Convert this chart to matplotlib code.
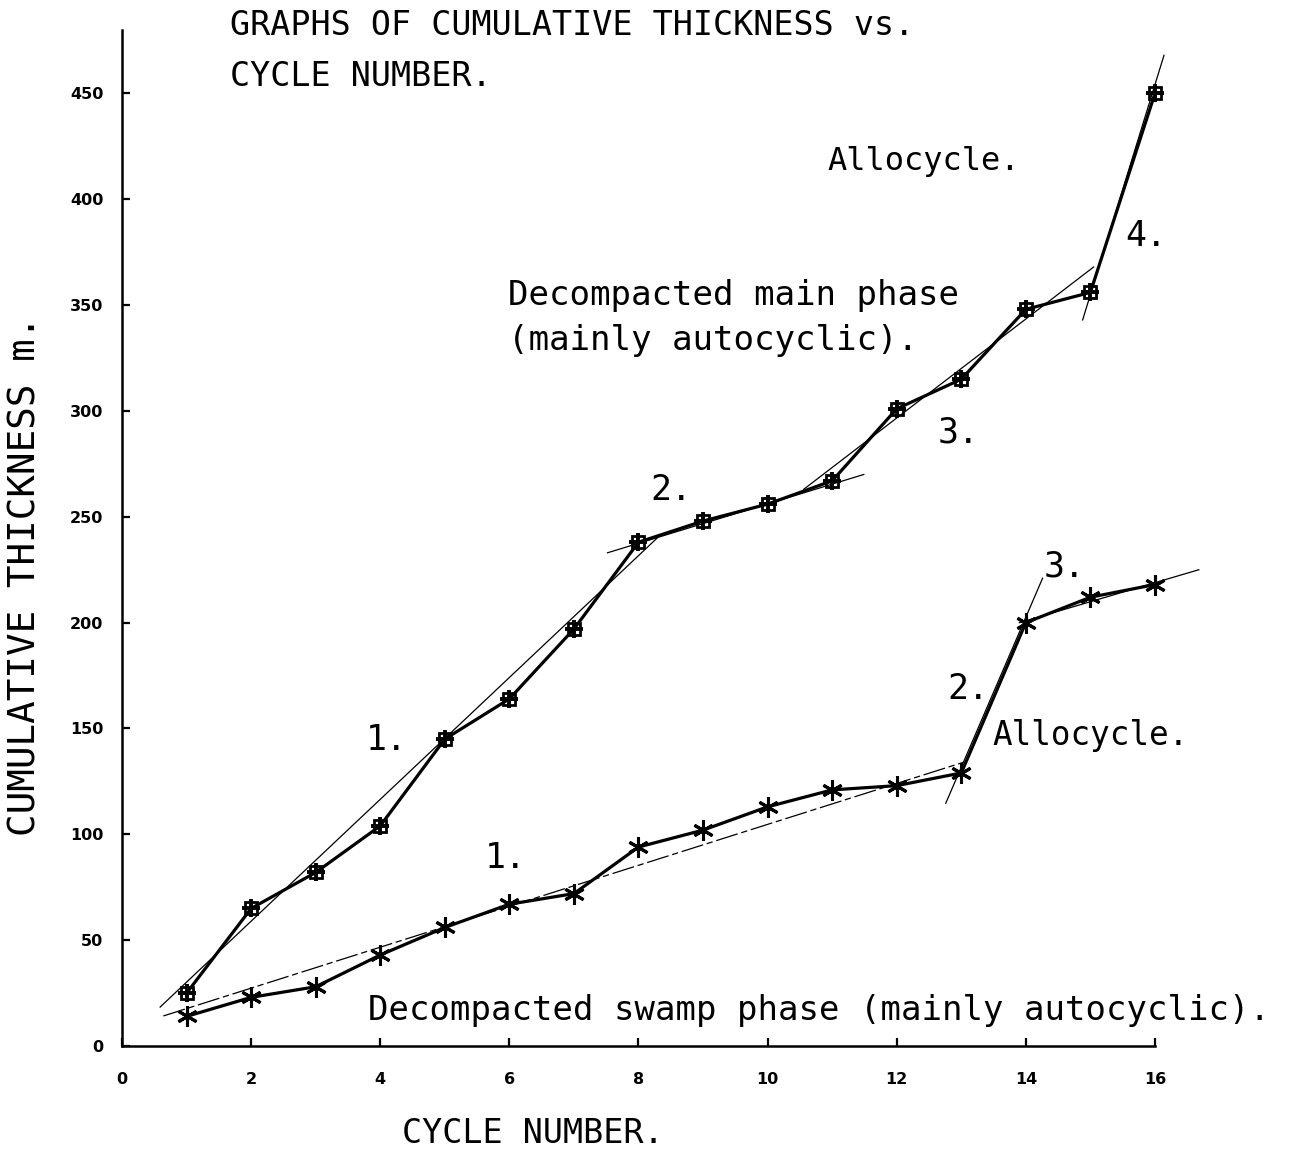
import matplotlib
matplotlib.use('Agg')
import matplotlib.pyplot as plt
import numpy as np


# cumulative thickness (m) per cycle, read from the two plotted series
cycles = np.arange(1, 17)
main_phase = [25, 65, 82, 104, 145, 164, 197, 238, 248, 256, 267, 301, 315, 348, 356, 450]
swamp_phase = [14, 23, 28, 43, 56, 67, 72, 94, 102, 113, 121, 123, 129, 200, 212, 218]

# fitted trend segments: ((x0, y0), (x1, y1))
main_trends = [((0.59, 18.4), (8.29, 240.0)),
               ((7.52, 233.0), (11.49, 270.0)),
               ((10.56, 263.0), (15.05, 368.0)),
               ((14.88, 343.0), (16.14, 468.0))]
swamp_trends = [((0.64, 14.2), (13.03, 134.0)),
                ((12.76, 114.7), (14.26, 221.0)),
                ((13.90, 200.0), (16.68, 225.0))]

x_ticks = list(range(0, 17, 2))
y_ticks = list(range(0, 451, 50))

MONO = 'DejaVu Sans Mono'


def setup_pyplot():
    plt.rcParams['font.family'] = 'DejaVu Sans'
    plt.rcParams['xtick.direction'] = 'in'
    plt.rcParams['ytick.direction'] = 'in'
    plt.rcParams['xtick.major.width'] = 1.6
    plt.rcParams['ytick.major.width'] = 1.6
    plt.rcParams['xtick.major.size'] = 6
    plt.rcParams['ytick.major.size'] = 6


def draw_trends(ax, segments, **kw):
    for (x0, y0), (x1, y1) in segments:
        ax.plot([x0, x1], [y0, y1], color='black', lw=0.9, clip_on=False, **kw)


if __name__ == '__main__':
    setup_pyplot()

    fig = plt.figure(figsize=(12.9, 11.51), dpi=100)
    ax = fig.add_axes([0.0946, 0.0912, 0.8007, 0.8828])
    ax.set_xlim(0, 16)
    ax.set_ylim(0, 480)

    for side in ('top', 'right'):
        ax.spines[side].set_visible(False)
    ax.spines['left'].set_linewidth(1.8)
    ax.spines['bottom'].set_linewidth(1.8)

    ax.set_xticks(x_ticks)
    ax.set_yticks(y_ticks)
    ax.tick_params(axis='x', pad=18.5, labelsize=11.5)
    ax.tick_params(axis='y', pad=13.5, labelsize=11.5)
    for lab in ax.get_xticklabels() + ax.get_yticklabels():
        lab.set_fontweight('bold')

    # trend lines
    draw_trends(ax, main_trends)
    draw_trends(ax, swamp_trends[:1], linestyle=(0, (18, 3, 5, 3)))
    draw_trends(ax, swamp_trends[1:])

    # main phase: boxed cross markers
    ax.plot(cycles, main_phase, color='black', lw=2.3, clip_on=False)
    ax.plot(cycles, main_phase, ls='none', marker='s', ms=8.5, mfc='none',
            mec='black', mew=2.0, clip_on=False)
    ax.plot(cycles, main_phase, ls='none', marker='+', ms=12.5, mec='black',
            mew=2.8, clip_on=False)

    # swamp phase: asterisk markers
    ax.plot(cycles, swamp_phase, color='black', lw=2.3, clip_on=False)
    ax.plot(cycles, swamp_phase, ls='none', marker=(6, 2, 0), ms=15,
            mec='black', mew=2.2, clip_on=False)

    txt = dict(family=MONO, color='black', va='baseline', ha='left')
    ax.text(10.92, 414, 'Allocycle.', fontsize=23, **txt)
    ax.text(5.98, 350, 'Decompacted main phase', fontsize=24.6, **txt)
    ax.text(5.98, 329, '(mainly autocyclic).', fontsize=24.6, **txt)
    ax.text(15.54, 378, '4.', fontsize=25, **txt)
    ax.text(12.64, 285, '3.', fontsize=25, **txt)
    ax.text(8.18, 258, '2.', fontsize=25, **txt)
    ax.text(3.78, 140, '1.', fontsize=25, **txt)

    ax.text(5.62, 84, '1.', fontsize=25, **txt)
    ax.text(12.79, 164, '2.', fontsize=25, **txt)
    ax.text(14.27, 222, '3.', fontsize=25, **txt)
    ax.text(13.49, 142, 'Allocycle.', fontsize=23.5, **txt)
    ax.text(3.81, 12.3, 'Decompacted swamp phase (mainly autocyclic).',
            fontsize=24.5, **txt)

    fig.text(0.178, 0.9696, 'GRAPHS OF CUMULATIVE THICKNESS vs.', fontsize=24, **txt)
    fig.text(0.178, 0.9253, 'CYCLE NUMBER.', fontsize=24, **txt)
    fig.text(0.3116, 0.0069, 'CYCLE NUMBER.', fontsize=24, **txt)
    fig.text(0.0195, 0.50, 'CUMULATIVE THICKNESS m.', fontsize=27, family=MONO,
             rotation=90, ha='center', va='center')

    fig.savefig('out.png', dpi=100, facecolor='white')
